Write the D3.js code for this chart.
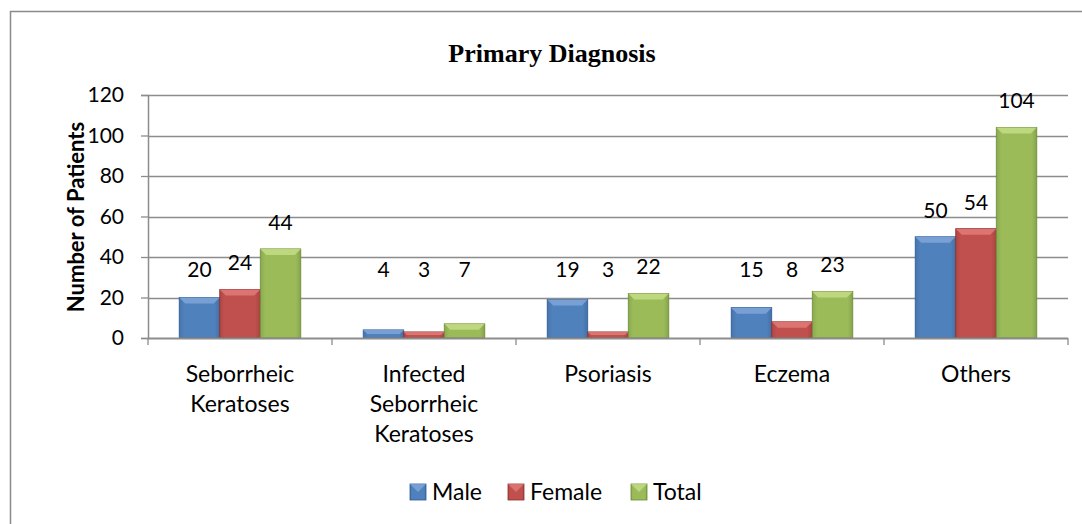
<!DOCTYPE html>
<html><head><meta charset="utf-8">
<script src="https://cdn.jsdelivr.net/npm/d3@7"></script>
<style>
html,body{margin:0;padding:0;background:#fff;}
svg text{font-family:Lato,"Open Sans",sans-serif;}
</style></head>
<body>
<svg id="c" width="1082" height="524"></svg>
<script>
const categories = [["Seborrheic","Keratoses"],["Infected","Seborrheic","Keratoses"],["Psoriasis"],["Eczema"],["Others"]];
const seriesNames = ["Male","Female","Total"];
const male = [20,4,19,15,50];
const female = [24,3,3,8,54];
const total = [44,7,22,23,104];
const yTicks = [0,20,40,60,80,100,120];
const colors = ["#4F81BD","#C0504D","#9BBB59"];
const darks = ["#2c5a94","#8e2d2a","#6c8a33"];
const lights = ["#7fa6d8","#e07b78","#c3dd86"];

const svg = d3.select("#c");
const m = {left:148,right:1068,top:95,bottom:338};

// outer border (only top & left visible)
svg.append("rect").attr("x",10.5).attr("y",11.5).attr("width",1200).attr("height",600)
  .attr("fill","none").attr("stroke","#8a8a8a").attr("stroke-width",1.5);

const x0 = d3.scaleBand().domain(d3.range(categories.length)).range([m.left,m.right]).paddingInner(0).paddingOuter(0);
const x1 = d3.scaleBand().domain(d3.range(3)).range([0,x0.bandwidth()]).paddingInner(0).paddingOuter(0.77);
const y = d3.scaleLinear().domain([0,120]).range([m.bottom,m.top]);

const defs = svg.append("defs");
colors.forEach((c,i)=>{
  const g = defs.append("linearGradient").attr("id","g"+i).attr("x1","0").attr("x2","1").attr("y1","0").attr("y2","0");
  g.append("stop").attr("offset","0").attr("stop-color",d3.color(c).darker(0.3));
  g.append("stop").attr("offset","0.12").attr("stop-color",c);
  g.append("stop").attr("offset","0.88").attr("stop-color",c);
  g.append("stop").attr("offset","1").attr("stop-color",d3.color(c).darker(0.4));
});

// gridlines
svg.append("g").selectAll("line").data(yTicks.filter(d=>d>0)).join("line")
  .attr("x1",m.left).attr("x2",m.right).attr("y1",d=>Math.round(y(d))+0.5).attr("y2",d=>Math.round(y(d))+0.5)
  .attr("stroke","#8c8c8c").attr("stroke-width",1.3);

// y axis
const yAxis = svg.append("g").attr("transform",`translate(${m.left},0)`)
  .call(d3.axisLeft(y).tickValues(yTicks).tickSize(7).tickPadding(17));
yAxis.select(".domain").attr("stroke","#8c8c8c").attr("stroke-width",1.5);
yAxis.selectAll(".tick line").attr("stroke","#8c8c8c").attr("stroke-width",1.3);
yAxis.selectAll(".tick text").attr("font-size",21).attr("font-family","Lato").attr("fill","#000");

// bars
const series = [male,female,total];
const groups = svg.append("g").selectAll("g").data(categories).join("g")
  .attr("transform",(d,i)=>`translate(${x0(i)},0)`);
groups.each(function(cat,ci){
  const g = d3.select(this);
  series.forEach((s,si)=>{
    const v = s[ci];
    const bx = x1(si), bw = x1.bandwidth(), by = y(v), bh = y(0)-y(v);
    g.append("rect").attr("x",bx).attr("y",by).attr("width",bw).attr("height",bh)
      .attr("fill",`url(#g${si})`).attr("stroke",darks[si]).attr("stroke-width",0.8);
    const bev = Math.min(6,bh/2);
    g.append("path").attr("d",`M${bx},${by}L${bx+bw},${by}L${bx+bw-bev},${by+bev}L${bx+bev},${by+bev}Z`)
      .attr("fill",lights[si]).attr("opacity",0.85);
    g.append("text").attr("x",bx+bw/2).attr("y",Math.min(by-19,277)).attr("text-anchor","middle")
      .attr("font-size",21).attr("fill","#000").text(v);
  });
});

// x axis line
svg.append("line").attr("x1",m.left).attr("x2",m.right).attr("y1",m.bottom+0.5).attr("y2",m.bottom+0.5)
  .attr("stroke","#8c8c8c").attr("stroke-width",1.8);
svg.append("g").selectAll("line").data(d3.range(categories.length+1)).join("line")
  .attr("x1",d=>m.left+d*x0.bandwidth()).attr("x2",d=>m.left+d*x0.bandwidth())
  .attr("y1",m.bottom).attr("y2",m.bottom+7).attr("stroke","#8c8c8c").attr("stroke-width",1.3);

// category labels
categories.forEach((lines,i)=>{
  const t = svg.append("text").attr("text-anchor","middle").attr("font-size",23).attr("fill","#000");
  lines.forEach((ln,k)=>{
    t.append("tspan").attr("x",x0(i)+x0.bandwidth()/2).attr("y",382+k*30).text(ln);
  });
});

// title
svg.append("text").attr("x",552).attr("y",62).attr("text-anchor","middle")
  .attr("font-weight","bold").attr("font-size",26)
  .style("font-family","'Liberation Serif','Times New Roman',serif").text("Primary Diagnosis");

// y axis title
svg.append("text").attr("transform","translate(84,217) rotate(-90)").attr("text-anchor","middle")
  .attr("font-size",22).attr("font-weight","bold").attr("fill","#000").text("Number of Patients");

// legend
const legX = [410,508,631];
seriesNames.forEach((n,i)=>{
  svg.append("rect").attr("x",legX[i]).attr("y",484).attr("width",16).attr("height",16)
    .attr("fill",`url(#g${i})`).attr("stroke",darks[i]).attr("stroke-width",0.8);
  svg.append("path").attr("d",`M${legX[i]},484L${legX[i]+16},484L${legX[i]+8},492Z`).attr("fill",lights[i]).attr("opacity",0.8);
  svg.append("text").attr("x",legX[i]+22).attr("y",500).attr("font-size",23).attr("fill","#000").text(n);
});
</script>
</body></html>
